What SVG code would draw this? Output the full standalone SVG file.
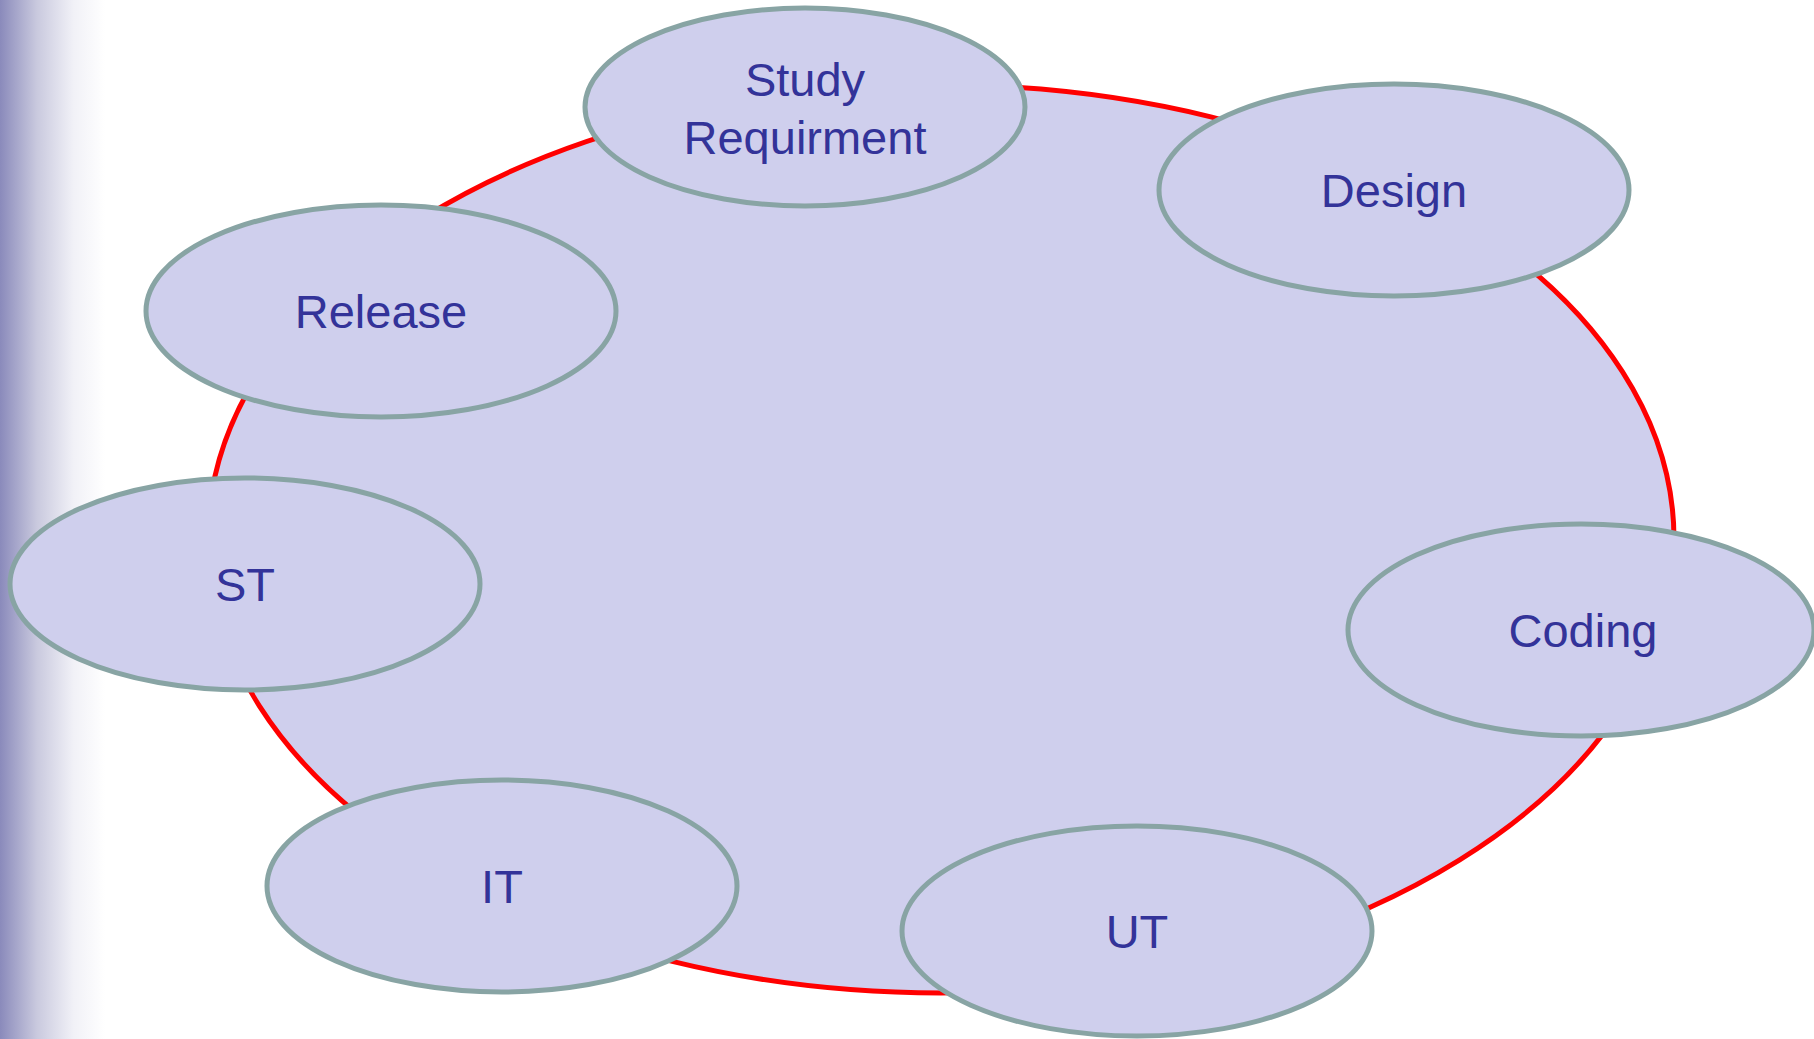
<svg xmlns="http://www.w3.org/2000/svg" width="1814" height="1039" viewBox="0 0 1814 1039">
  <defs>
    <linearGradient id="side" x1="0" y1="0" x2="1" y2="0">
      <stop offset="0" stop-color="#8A8ABB"/>
      <stop offset="0.35" stop-color="#C9C9DE"/>
      <stop offset="0.7" stop-color="#F1F1F7"/>
      <stop offset="1" stop-color="#FFFFFF"/>
    </linearGradient>
  </defs>
  <style>
    .node ellipse { fill: #CFCFED; stroke: #88A4A4; stroke-width: 5; }
    .node text { font-family: "Liberation Sans", Arial, sans-serif; font-size: 47px; fill: #333399; text-anchor: middle; }
    .cycle { fill: #CFCFED; stroke: #FF0000; stroke-width: 5; }
  </style>
  <rect x="0" y="0" width="1814" height="1039" fill="#FFFFFF"/>
  <rect x="0" y="0" width="105" height="1039" fill="url(#side)"/>
  <g id="connectors">
    <ellipse class="cycle" cx="941" cy="539" rx="733" ry="454"/>
  </g>
  <g id="study" class="node">
    <ellipse cx="805" cy="107" rx="220" ry="99"/>
    <text x="805" y="96">Study</text>
    <text x="805" y="154">Requirment</text>
  </g>
  <g id="design" class="node">
    <ellipse cx="1394" cy="190" rx="235" ry="106"/>
    <text x="1394" y="207">Design</text>
  </g>
  <g id="release" class="node">
    <ellipse cx="381" cy="311" rx="235" ry="106"/>
    <text x="381" y="328">Release</text>
  </g>
  <g id="st" class="node">
    <ellipse cx="245" cy="584" rx="235" ry="106"/>
    <text x="245" y="601">ST</text>
  </g>
  <g id="coding" class="node">
    <ellipse cx="1581" cy="630" rx="233" ry="106"/>
    <text x="1583" y="647">Coding</text>
  </g>
  <g id="it" class="node">
    <ellipse cx="502" cy="886" rx="235" ry="106"/>
    <text x="502" y="903">IT</text>
  </g>
  <g id="ut" class="node">
    <ellipse cx="1137" cy="931" rx="235" ry="105"/>
    <text x="1137" y="948">UT</text>
  </g>
</svg>
